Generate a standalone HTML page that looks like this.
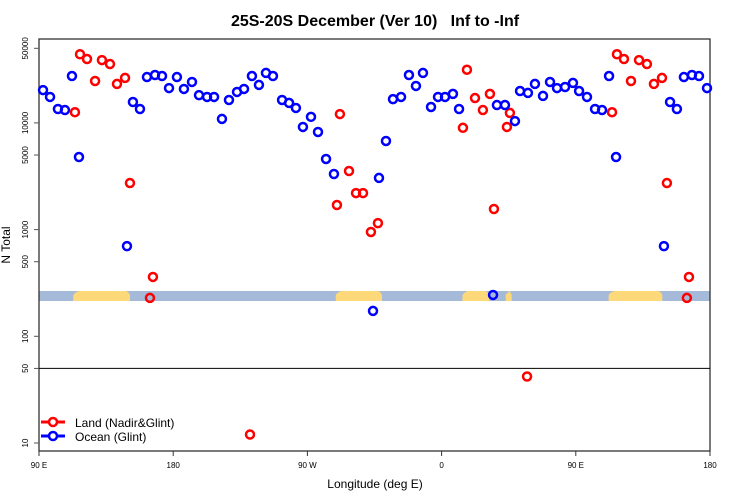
<!DOCTYPE html>
<html><head><meta charset="utf-8"><style>
html,body{margin:0;padding:0;background:#fff;}
svg{display:block;font-family:"Liberation Sans",sans-serif;}
</style></head><body>
<svg id="chart" width="750" height="500" viewBox="0 0 750 500" xmlns="http://www.w3.org/2000/svg">
<text x="375" y="26" text-anchor="middle" font-size="16" font-weight="bold" style="white-space:pre">25S-20S December (Ver 10)   Inf to -Inf</text>
<text x="375" y="488" text-anchor="middle" font-size="12">Longitude (deg E)</text>
<text transform="translate(10,245) rotate(-90)" text-anchor="middle" font-size="12">N Total</text>
<g id="band"></g>
<g id="axes"></g>
<g id="marks"></g>
<g>
 <g>
  <line x1="41" y1="422" x2="65" y2="422" stroke="#ff0000" stroke-width="3"/>
  <circle cx="53" cy="422" r="4" fill="#fff" stroke="#ff0000" stroke-width="2.5"/>
  <text x="75" y="427" font-size="12">Land (Nadir&amp;Glint)</text>
 </g>
 <g>
  <line x1="41" y1="436" x2="65" y2="436" stroke="#0000ff" stroke-width="3"/>
  <circle cx="53" cy="436" r="4" fill="#fff" stroke="#0000ff" stroke-width="2.5"/>
  <text x="75" y="441" font-size="12">Ocean (Glint)</text>
 </g>
</g>
</svg>
<script>
// longitudes given unwrapped: 90 (90E) .. 540 (180 again)
const xTickLons = [90, 180, 270, 360, 450, 540];
const xTickLabels = ["90 E", "180", "90 W", "0", "90 E", "180"];
const yTickValues = [10, 50, 100, 500, 1000, 5000, 10000, 50000];
const yTickLabels = ["10", "50", "100", "500", "1000", "5000", "10000", "50000"];
const landLon = [114.1,117.5,122.2,127.6,132.2,137.6,142.3,147.7,151.0,164.4,166.4,231.5,289.8,291.8,297.9,302.6,307.3,312.6,317.3,374.3,377.0,382.4,387.7,392.4,395.1,403.8,405.8,417.3,474.3,477.6,482.3,487.0,492.4,497.7,502.4,507.8,511.1,524.5,525.9];
const landVal = [12600,44000,39700,24700,38800,35600,23200,26400,2730,229,360,12,1700,12100,3540,2200,2200,950,1150,9000,31500,17100,13200,18700,1560,9160,12400,42,12600,44000,39700,24700,38800,35600,23200,26400,2730,229,360];
const oceanLon = [92.7,97.4,102.7,107.4,112.1,116.8,149.0,153.0,157.7,162.4,167.8,172.5,177.2,182.5,187.2,192.6,197.3,202.7,207.4,212.7,217.4,222.8,227.5,232.8,237.5,242.2,246.9,253.0,257.7,262.3,267.0,272.4,277.1,282.5,287.8,314.0,318.0,322.7,327.4,332.8,338.1,342.8,347.5,352.9,357.6,362.3,367.6,371.7,394.5,397.1,402.5,409.2,412.6,417.9,422.6,428.0,432.7,437.4,442.8,448.1,452.2,457.5,462.9,467.6,472.3,477.0,509.1,513.2,517.8,522.5,527.9,532.6,538.0];
const oceanVal = [20300,17500,13500,13200,27500,4790,700,15700,13500,26900,28100,27500,21200,26900,20800,24200,18200,17500,17500,10900,16400,19500,20800,27500,22700,29400,27500,16400,15400,13800,9160,11400,8220,4590,3320,173,3050,6770,16700,17500,28100,22200,29400,14100,17500,17500,18700,13500,244,14700,14700,10400,19900,19100,23200,17900,24200,21200,21700,23700,19900,17500,13500,13200,27500,4790,700,15700,13500,26900,28100,27500,21200];
const landSpans = [[113,151],[289,320],[374,392],[403,407],[472,508]];

const L=39,R=710,T=39,B=451;
const NS="http://www.w3.org/2000/svg";
function xScale(lon){return L+(lon-90)*(R-L)/450;}
function yScale(v){return 443-(Math.log10(v)-1)*106.7;}
function mk(tag,attrs,parent){const e=document.createElementNS(NS,tag);for(const k in attrs)e.setAttribute(k,attrs[k]);parent.appendChild(e);return e;}
const axes=document.getElementById('axes'),marks=document.getElementById('marks'),band=document.getElementById('band');

let r=mk('rect',{x:L,y:291,width:R-L,height:10,fill:'#a5b9d8'},band);


landSpans.forEach(s=>{
 const x1=xScale(s[0]),x2=xScale(s[1]);
 const p=mk('path',{d:`M${x1},301 L${x1},295 Q${x1+2},292 ${x1+6},291 L${x2-4},291 Q${x2-1},292 ${x2},295 L${x2},301 Z`,fill:'#fed97a'},band);
 
 
});

let fr=mk('rect',{x:L,y:T,width:R-L,height:B-T,fill:'none',stroke:'#333',"stroke-width":1.3},axes);


let hl=mk('line',{x1:L,x2:R,y1:yScale(50),y2:yScale(50),stroke:'#000','stroke-width':1},axes);



xTickLons.forEach((lon,i)=>{
 const x=xScale(lon);
 mk('line',{x1:x,x2:x,y1:B,y2:B+5,stroke:'#333'},axes);
 const t=mk('text',{x:x,y:468,'text-anchor':'middle','font-size':8},axes);
 t.textContent=xTickLabels[i];
 
 
});
yTickValues.forEach((v,i)=>{
 const y=yScale(v);
 mk('line',{x1:L-5,x2:L,y1:y,y2:y,stroke:'#555'},axes);
 const t=mk('text',{x:0,y:0,'text-anchor':'middle','font-size':8,transform:`translate(28,${y}) rotate(-90)`},axes);
 t.textContent=yTickLabels[i];
 
 
});

function drawPts(lons,vals,color,name){
 lons.forEach((lon,i)=>{
  const c=mk('circle',{cx:xScale(lon),cy:yScale(vals[i]),r:4,fill:'none',stroke:color,'stroke-width':2.5},marks);
  
  
 });
}
drawPts(landLon,landVal,'#ff0000','land-point');
drawPts(oceanLon,oceanVal,'#0000ff','ocean-point');
</script>
</body></html>
